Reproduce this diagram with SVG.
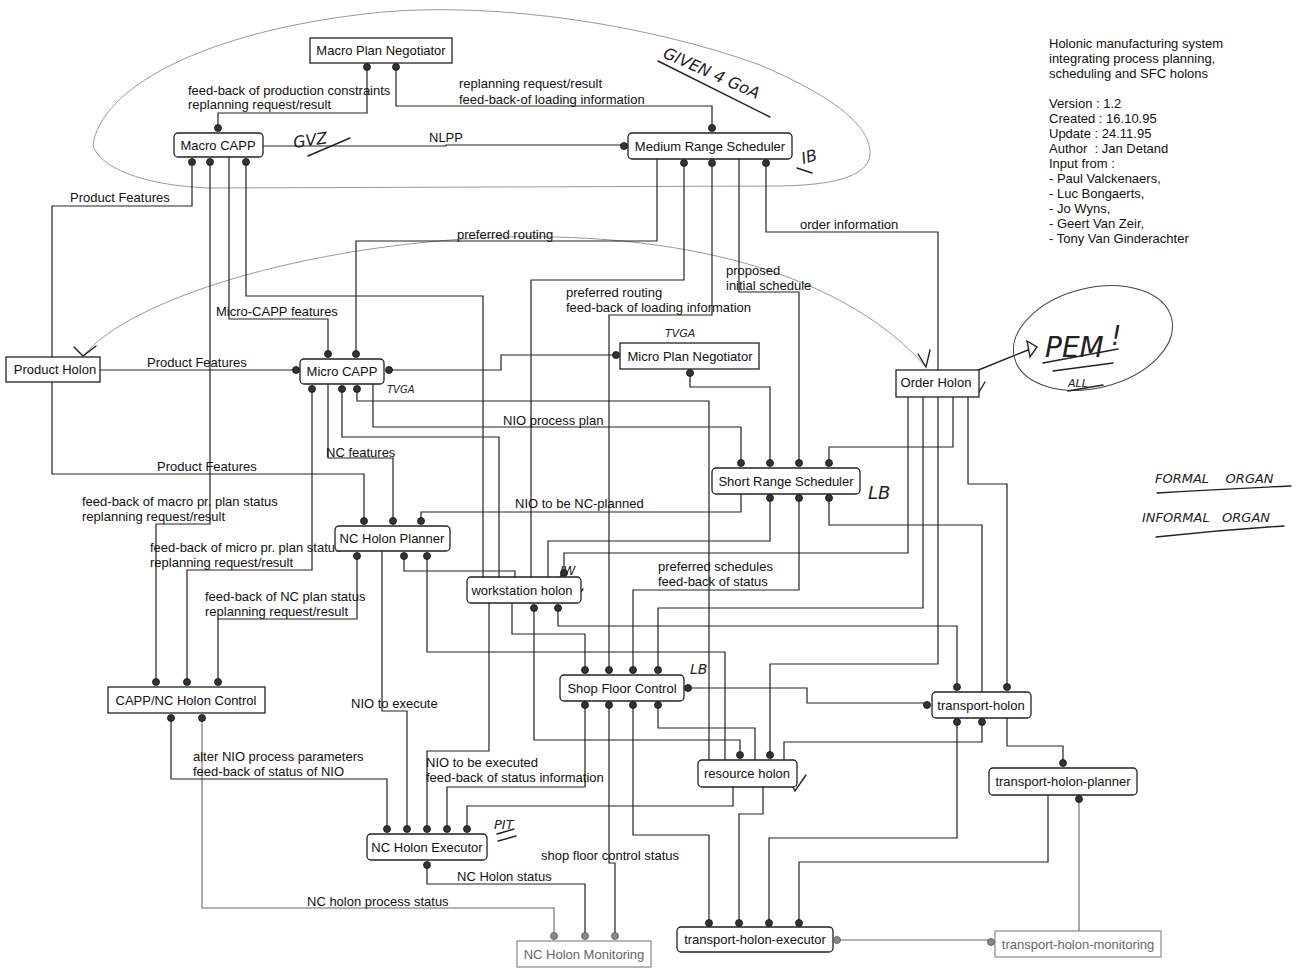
<svg xmlns="http://www.w3.org/2000/svg" width="1299" height="974" viewBox="0 0 1299 974">
<style>
text{font-family:"Liberation Sans",Arial,sans-serif;font-size:13px;fill:#111}
.box{fill:#fff;stroke:#222;stroke-width:1.3}
.boxl{fill:#fff;stroke:#888;stroke-width:1.2}
.tl{fill:#666}
.c{fill:none;stroke:#222;stroke-width:1.2}
.cl{fill:none;stroke:#666;stroke-width:1.1}
.port{fill:#333;stroke:#111;stroke-width:0.8}
.portl{fill:#888;stroke:#555;stroke-width:0.8}
.hand{fill:none;stroke:#222;stroke-width:1.4;stroke-linecap:round}
.pen{fill:none;stroke:#999;stroke-width:1}
text.hw{font-family:"DejaVu Sans",sans-serif;font-style:italic;fill:#222}
</style>
<rect width="1299" height="974" fill="#fff"/>

<!-- hand-drawn decorations -->
<g id="sketch">
<path class="pen" d="M93,145 C100,90 200,30 383,12 C500,2 650,25 760,65 C830,95 872,125 870,155 C867,178 830,185 780,186 L210,188 C150,186 100,170 93,145"/>
<path class="pen" d="M84,355 C130,300 300,245 500,237 C700,232 850,280 926,367"/>
<path class="hand" d="M74,347 L83,356 L96,346"/>
<path class="hand" d="M918,354 L926,367 L930,350"/>
<path class="hand" d="M976,371 L1028,350"/>
<path class="hand" d="M1027,341 L1037,347 L1030,357 Z"/>
<ellipse cx="1093" cy="338" rx="81" ry="50" transform="rotate(-14 1093 338)" fill="none" stroke="#444" stroke-width="1"/>
<text class="hw" x="1045" y="357" style="font-size:28px">PEM</text>
<text class="hw" x="1111" y="345" style="font-size:26px">!</text>
<path class="hand" d="M1043,363 L1118,349 M1053,371 L1113,363"/>
<text class="hw" x="1068" y="387" style="font-size:11px">ALL</text>
<path class="hand" stroke-width="1" d="M1068,391 L1103,385"/>
<text class="hw" x="294" y="148" style="font-size:16px" transform="rotate(-8 294 148)">GVZ</text>
<path class="hand" d="M308,156 L350,138"/>
<text class="hw" x="662" y="57" style="font-size:16px" transform="rotate(24 662 57)">GIVEN 4 GoA</text>
<path class="hand" d="M658,61 L770,117"/>
<text class="hw" x="803" y="164" style="font-size:16px" transform="rotate(-15 803 164)">IB</text>
<path class="hand" d="M797,168 L812,173"/>
<text class="hw" x="665" y="337" style="font-size:11px">TVGA</text>
<text class="hw" x="387" y="393" style="font-size:10px">TVGA</text>
<text class="hw" x="868" y="499" style="font-size:18px">LB</text>
<text class="hw" x="690" y="674" style="font-size:14px">LB</text>
<text class="hw" x="560" y="575" style="font-size:12px">JW</text>
<path class="hand" stroke-width="1" d="M558,582 L573,579"/>
<text class="hw" x="494" y="829" style="font-size:13px">PIT</text>
<path class="hand" stroke-width="1" d="M497,834 L514,829 M498,841 L516,836"/>
<path class="hand" stroke-width="1.1" d="M7,368 L10,380 L16,361"/>
<path class="hand" stroke-width="1.1" d="M974,386 L979,392 L985,382"/>
<path class="hand" stroke-width="1.1" d="M576,598 L583,589"/>
<path class="hand" stroke-width="1.1" d="M792,785 L795,791 L806,775"/>
<text class="hw" x="1155" y="483" style="font-size:13px;white-space:pre">FORMAL    ORGAN</text>
<path class="hand" stroke-width="1.2" d="M1157,493 Q1220,489 1291,486"/>
<text class="hw" x="1142" y="522" style="font-size:13px;white-space:pre">INFORMAL   ORGAN</text>
<path class="hand" stroke-width="1.2" d="M1156,537 Q1220,530 1284,526"/>
</g>

<!-- title block -->
<g id="title">
<text x="1049" y="47.5">Holonic manufacturing system</text>
<text x="1049" y="62.5">integrating process planning,</text>
<text x="1049" y="77.5">scheduling and SFC holons</text>
<text x="1049" y="107.5">Version : 1.2</text>
<text x="1049" y="122.5">Created : 16.10.95</text>
<text x="1049" y="137.5">Update : 24.11.95</text>
<text x="1049" y="152.5" style="white-space:pre">Author  : Jan Detand</text>
<text x="1049" y="167.5">Input from :</text>
<text x="1049" y="182.5">- Paul Valckenaers,</text>
<text x="1049" y="197.5">- Luc Bongaerts,</text>
<text x="1049" y="212.5">- Jo Wyns,</text>
<text x="1049" y="227.5">- Geert Van Zeir,</text>
<text x="1049" y="242.5">- Tony Van Ginderachter</text>
</g>

<!-- connectors -->
<g id="connectors">
<path class="c" d="M367,67 V113 H218 V128"/>
<path class="c" d="M396,67 V106 H712 V128"/>
<path class="c" d="M263,146 H446 V145 H624"/>
<path class="c" d="M192,162 V206 H52 V357"/>
<path class="c" d="M52,382 V474 H364 V521"/>
<path class="c" d="M100,370 H296"/>
<path class="c" d="M210,162 V524 H156 V682"/>
<path class="c" d="M229,157 V319 H328 V354"/>
<path class="c" d="M246,162 V296 H483 V577"/>
<path class="c" d="M657,159 V241 H356 V354"/>
<path class="c" d="M684,163 V280 H531 V577"/>
<path class="c" d="M712,163 V315 H609 V670"/>
<path class="c" d="M739,159 V292 H799 V463"/>
<path class="c" d="M766,163 V232 H938 V370"/>
<path class="c" d="M938,397 V664 H770 V755"/>
<path class="c" d="M389,370 H501 V355 H616"/>
<path class="c" d="M690,373 V387 H770 V463"/>
<path class="c" d="M328,384 V458 H393 V521"/>
<path class="c" d="M312,389 V570 H187 V682"/>
<path class="c" d="M342,389 V437 H499 V577"/>
<path class="c" d="M357,389 V401 H709 V760"/>
<path class="c" d="M373,384 V427 H741 V463"/>
<path class="c" d="M741,494 V512 H421 V521"/>
<path class="c" d="M770,498 V541 H548 V577"/>
<path class="c" d="M908,397 V553 H564 V573"/>
<path class="c" d="M799,498 V590 H633 V670"/>
<path class="c" d="M829,498 V525 H982 V692"/>
<path class="c" d="M953,397 V447 H829 V463"/>
<path class="c" d="M923,397 V608 H658 V670"/>
<path class="c" d="M968,397 V484 H1007 V687"/>
<path class="c" d="M558,608 V626 H957 V687"/>
<path class="c" d="M427,556 V652 H725 V760"/>
<path class="c" d="M404,556 V571 H515 V577"/>
<path class="c" d="M512,603 V634 H585 V670"/>
<path class="c" d="M688,688 H807 V703 H927"/>
<path class="c" d="M658,705 V728 H755 V760"/>
<path class="c" d="M534,608 V740 H740 V755"/>
<path class="c" d="M982,722 V742 H784 V760"/>
<path class="c" d="M957,722 V838 H769 V923"/>
<path class="c" d="M1007,718 V746 H1063 V763"/>
<path class="c" d="M1048,795 V862 H799 V923"/>
<path class="cl" d="M1079,799 V931"/>
<path class="cl" d="M837,940 H991"/>
<path class="c" d="M733,787 V806 H467 V829"/>
<path class="c" d="M763,787 V814 H739 V923"/>
<path class="c" d="M633,705 V835 H709 V923"/>
<path class="c" d="M585,705 V787 H447 V829"/>
<path class="c" d="M609,705 V863 H615 V936"/>
<path class="c" d="M427,865 V884 H585 V936"/>
<path class="cl" d="M202,718 V908 H554 V936"/>
<path class="c" d="M171,718 V779 H387 V829"/>
<path class="c" d="M357,556 V619 H218 V682"/>
<path class="c" d="M382,551 V711 H407 V829"/>
<path class="c" d="M489,603 V751 H427 V829"/>
</g>

<!-- connector labels -->
<g id="labels">
<text x="188" y="95">feed-back of production constraints</text>
<text x="188" y="109">replanning request/result</text>
<text x="459" y="88">replanning request/result</text>
<text x="459" y="104">feed-back-of loading information</text>
<text x="429" y="142">NLPP</text>
<text x="70" y="202">Product Features</text>
<text x="147" y="367">Product Features</text>
<text x="157" y="471">Product Features</text>
<text x="216" y="316">Micro-CAPP features</text>
<text x="457" y="239">preferred routing</text>
<text x="566" y="297">preferred routing</text>
<text x="566" y="312">feed-back of loading information</text>
<text x="726" y="275">proposed</text>
<text x="726" y="290">initial schedule</text>
<text x="800" y="229">order information</text>
<text x="503" y="425">NIO process plan</text>
<text x="326" y="457">NC features</text>
<text x="515" y="508">NIO to be NC-planned</text>
<text x="82" y="506">feed-back of macro pr. plan status</text>
<text x="82" y="521">replanning request/result</text>
<text x="150" y="552">feed-back of micro pr. plan status</text>
<text x="150" y="567">replanning request/result</text>
<text x="658" y="571">preferred schedules</text>
<text x="658" y="586">feed-back of status</text>
<text x="205" y="601">feed-back of NC plan status</text>
<text x="205" y="616">replanning request/result</text>
<text x="351" y="708">NIO to execute</text>
<text x="193" y="761">alter NIO process parameters</text>
<text x="193" y="776">feed-back of status of NIO</text>
<text x="426" y="767">NIO to be executed</text>
<text x="426" y="782">feed-back of status information</text>
<text x="541" y="860">shop floor control status</text>
<text x="457" y="881">NC Holon status</text>
<text x="307" y="906">NC holon process status</text>
</g>

<!-- nodes -->
<g id="macro-plan-negotiator">
<rect class="box" x="310" y="38" width="142" height="25"/>
<text x="381" y="55" text-anchor="middle">Macro Plan Negotiator</text>
<circle class="port" cx="367" cy="67" r="3.5"/><circle class="port" cx="396" cy="67" r="3.5"/>
</g>
<g id="macro-capp">
<rect class="box" x="174" y="133" width="89" height="24" rx="4"/>
<text x="218" y="150" text-anchor="middle">Macro CAPP</text>
<circle class="port" cx="218" cy="128" r="3.5"/>
<circle class="port" cx="192" cy="162" r="3.5"/><circle class="port" cx="210" cy="162" r="3.5"/><circle class="port" cx="246" cy="162" r="3.5"/>
</g>
<g id="medium-range-scheduler">
<rect class="box" x="628" y="133" width="164" height="26" rx="4"/>
<text x="710" y="150.5" text-anchor="middle">Medium Range Scheduler</text>
<circle class="port" cx="712" cy="128" r="3.5"/><circle class="port" cx="624" cy="146" r="3.5"/>
<circle class="port" cx="684" cy="163" r="3.5"/><circle class="port" cx="712" cy="163" r="3.5"/><circle class="port" cx="766" cy="163" r="3.5"/>
</g>
<g id="product-holon">
<rect class="box" x="6" y="357" width="94" height="25"/>
<text x="55" y="374" text-anchor="middle">Product Holon</text>
</g>
<g id="micro-capp">
<rect class="box" x="300" y="359" width="84" height="25" rx="4"/>
<text x="342" y="376" text-anchor="middle">Micro CAPP</text>
<circle class="port" cx="296" cy="370" r="3.5"/><circle class="port" cx="389" cy="370" r="3.5"/>
<circle class="port" cx="328" cy="354" r="3.5"/><circle class="port" cx="356" cy="354" r="3.5"/>
<circle class="port" cx="312" cy="389" r="3.5"/><circle class="port" cx="342" cy="389" r="3.5"/><circle class="port" cx="357" cy="389" r="3.5"/>
</g>
<g id="micro-plan-negotiator">
<rect class="box" x="620" y="343" width="139" height="26"/>
<text x="690" y="360.5" text-anchor="middle">Micro Plan Negotiator</text>
<circle class="port" cx="616" cy="355" r="3.5"/><circle class="port" cx="690" cy="373" r="3.5"/>
</g>
<g id="order-holon">
<rect class="box" x="896" y="370" width="83" height="27"/>
<text x="936" y="387" text-anchor="middle">Order Holon</text>
</g>
<g id="short-range-scheduler">
<rect class="box" x="712" y="468" width="148" height="26" rx="4"/>
<text x="786" y="485.5" text-anchor="middle">Short Range Scheduler</text>
<circle class="port" cx="741" cy="463" r="3.5"/><circle class="port" cx="770" cy="463" r="3.5"/><circle class="port" cx="799" cy="463" r="3.5"/><circle class="port" cx="829" cy="463" r="3.5"/>
<circle class="port" cx="770" cy="498" r="3.5"/><circle class="port" cx="799" cy="498" r="3.5"/><circle class="port" cx="829" cy="498" r="3.5"/>
</g>
<g id="nc-holon-planner">
<rect class="box" x="335" y="526" width="115" height="25" rx="4"/>
<text x="392" y="543" text-anchor="middle">NC Holon Planner</text>
<circle class="port" cx="364" cy="521" r="3.5"/><circle class="port" cx="393" cy="521" r="3.5"/><circle class="port" cx="421" cy="521" r="3.5"/>
<circle class="port" cx="357" cy="556" r="3.5"/><circle class="port" cx="404" cy="556" r="3.5"/><circle class="port" cx="427" cy="556" r="3.5"/>
</g>
<g id="workstation-holon">
<rect class="box" x="467" y="577" width="114" height="26" rx="4"/>
<text x="522" y="594.5" text-anchor="middle">workstation holon</text>
<circle class="port" cx="564" cy="573" r="3.5"/>
<circle class="port" cx="534" cy="608" r="3.5"/><circle class="port" cx="558" cy="608" r="3.5"/>
</g>
<g id="shop-floor-control">
<rect class="box" x="560" y="675" width="124" height="26" rx="4"/>
<text x="622" y="692.5" text-anchor="middle">Shop Floor Control</text>
<circle class="port" cx="585" cy="670" r="3.5"/><circle class="port" cx="609" cy="670" r="3.5"/><circle class="port" cx="633" cy="670" r="3.5"/><circle class="port" cx="658" cy="670" r="3.5"/>
<circle class="port" cx="585" cy="705" r="3.5"/><circle class="port" cx="609" cy="705" r="3.5"/><circle class="port" cx="633" cy="705" r="3.5"/><circle class="port" cx="658" cy="705" r="3.5"/>
<circle class="port" cx="688" cy="688" r="3.5"/>
</g>
<g id="transport-holon">
<rect class="box" x="932" y="692" width="99" height="26" rx="4"/>
<text x="981" y="709.5" text-anchor="middle">transport-holon</text>
<circle class="port" cx="927" cy="705" r="3.5"/>
<circle class="port" cx="957" cy="687" r="3.5"/><circle class="port" cx="1007" cy="687" r="3.5"/>
<circle class="port" cx="957" cy="722" r="3.5"/><circle class="port" cx="982" cy="722" r="3.5"/>
</g>
<g id="transport-holon-planner">
<rect class="box" x="989" y="768" width="148" height="27" rx="4"/>
<text x="1063" y="786" text-anchor="middle">transport-holon-planner</text>
<circle class="port" cx="1063" cy="763" r="3.5"/><circle class="port" cx="1079" cy="799" r="3.5"/>
</g>
<g id="resource-holon">
<rect class="box" x="698" y="760" width="99" height="27" rx="4"/>
<text x="747" y="778" text-anchor="middle">resource holon</text>
<circle class="port" cx="740" cy="755" r="3.5"/><circle class="port" cx="770" cy="755" r="3.5"/>
</g>
<g id="capp-nc-holon-control">
<rect class="box" x="108" y="687" width="157" height="26"/>
<text x="186" y="704.5" text-anchor="middle">CAPP/NC Holon Control</text>
<circle class="port" cx="156" cy="682" r="3.5"/><circle class="port" cx="187" cy="682" r="3.5"/><circle class="port" cx="218" cy="682" r="3.5"/>
<circle class="port" cx="171" cy="718" r="3.5"/><circle class="port" cx="202" cy="718" r="3.5"/>
</g>
<g id="nc-holon-executor">
<rect class="box" x="367" y="834" width="120" height="26" rx="4"/>
<text x="427" y="851.5" text-anchor="middle">NC Holon Executor</text>
<circle class="port" cx="387" cy="829" r="3.5"/><circle class="port" cx="407" cy="829" r="3.5"/><circle class="port" cx="427" cy="829" r="3.5"/><circle class="port" cx="447" cy="829" r="3.5"/><circle class="port" cx="467" cy="829" r="3.5"/>
<circle class="port" cx="427" cy="865" r="3.5"/>
</g>
<g id="nc-holon-monitoring">
<rect class="boxl" x="517" y="941" width="134" height="26"/>
<text class="tl" x="584" y="958.5" text-anchor="middle">NC Holon Monitoring</text>
<circle class="portl" cx="554" cy="936" r="3.5"/><circle class="portl" cx="585" cy="936" r="3.5"/><circle class="portl" cx="615" cy="936" r="3.5"/>
</g>
<g id="transport-holon-executor">
<rect class="box" x="677" y="927" width="156" height="25" rx="4"/>
<text x="755" y="944" text-anchor="middle">transport-holon-executor</text>
<circle class="port" cx="709" cy="923" r="3.5"/><circle class="port" cx="739" cy="923" r="3.5"/><circle class="port" cx="769" cy="923" r="3.5"/><circle class="port" cx="799" cy="923" r="3.5"/>
<circle class="portl" cx="837" cy="940" r="3.5"/>
</g>
<g id="transport-holon-monitoring">
<rect class="boxl" x="995" y="931" width="166" height="26"/>
<text class="tl" x="1078" y="948.5" text-anchor="middle">transport-holon-monitoring</text>
<circle class="portl" cx="991" cy="942" r="3.5"/>
</g>
</svg>
